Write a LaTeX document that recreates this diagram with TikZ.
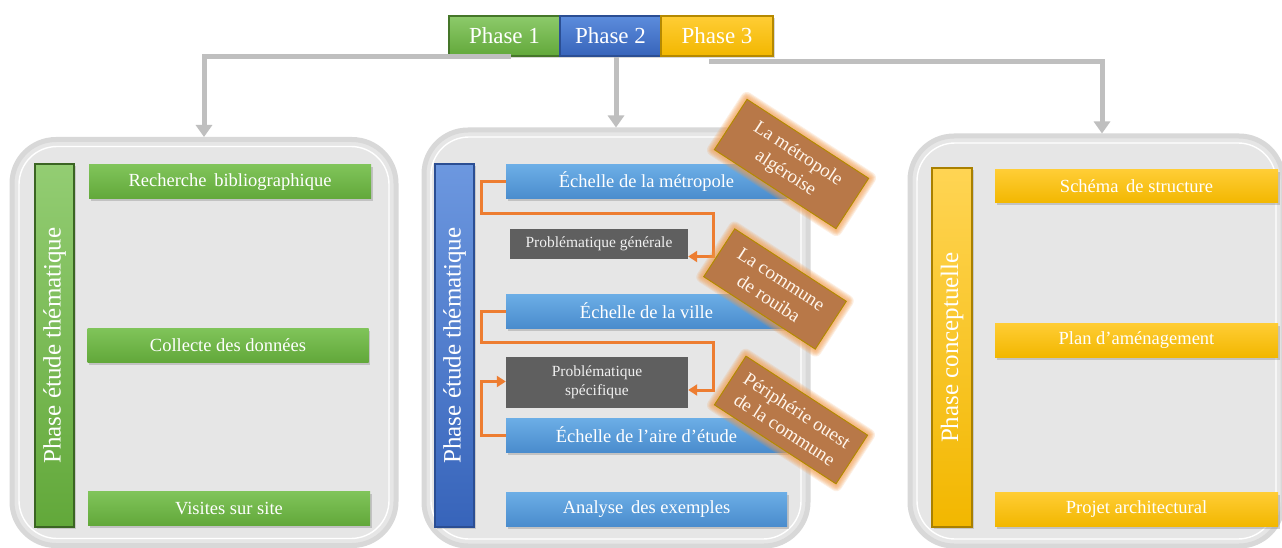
\documentclass[tikz,border=0pt]{standalone}
\usepackage{fontspec}
\setmainfont{Liberation Serif}
\usetikzlibrary{arrows.meta,shadows,calc}

\definecolor{panelfill}{HTML}{E6E6E6}
\definecolor{panelrim}{HTML}{D8D8D8}
\definecolor{grline}{HTML}{BFBFBF}
\definecolor{orline}{HTML}{ED7D31}
\definecolor{grtop}{HTML}{80C45A}
\definecolor{grbot}{HTML}{62A83A}
\definecolor{bltop}{HTML}{6CAEE6}
\definecolor{blbot}{HTML}{4A8CCD}
\definecolor{yetop}{HTML}{FFCD35}
\definecolor{yebot}{HTML}{F2B700}
\definecolor{phbtop}{HTML}{5C8CDC}
\definecolor{phbbot}{HTML}{3764BA}
\definecolor{phbrim}{HTML}{2B4E93}
\definecolor{darkbox}{HTML}{5F5F5F}
\definecolor{tagfill}{HTML}{B87848}
\definecolor{tagrim}{HTML}{B38A00}
\definecolor{tagglow}{HTML}{F39A4A}

\tikzset{
  panelbox/.style={draw=panelrim, line width=5pt, fill=panelfill, rounded corners=44pt,
    inner sep=0pt, drop shadow={opacity=0.12, shadow xshift=1pt, shadow yshift=-2pt}},
  panelline/.style={draw=white, line width=1.4pt, rounded corners=38pt, inner sep=0pt},
  item/.style={minimum height=34pt, inner sep=0pt, text=white,
    font=\fontsize{18.5}{21}\selectfont,
    drop shadow={opacity=0.35, shadow xshift=1.5pt, shadow yshift=-2.5pt}},
  gitem/.style={item, top color=grtop, bottom color=grbot},
  bitem/.style={item, top color=bltop, bottom color=blbot},
  yitem/.style={item, top color=yetop, bottom color=yebot},
  pitem/.style={fill=darkbox, inner sep=0pt, text=white!94!black, align=center,
    font=\fontsize{15.5}{19}\selectfont},
  bar/.style={rotate=90, minimum width=363pt, minimum height=39pt, inner sep=0pt,
    line width=1.5pt, text=white, font=\fontsize{25}{28}\selectfont,
    drop shadow={opacity=0.3, shadow xshift=1.5pt, shadow yshift=-2pt}},
  phasebox/.style={minimum height=40pt, inner sep=0pt, line width=1.2pt,
    text=white, font=\fontsize{23}{25}\selectfont,
    drop shadow={opacity=0.3, shadow xshift=1.5pt, shadow yshift=-2pt}},
  gline/.style={draw=grline, line width=5pt, -{Triangle[width=16pt,length=12pt]}},
  oline/.style={draw=orline, line width=3pt, -{Triangle[width=11pt,length=9pt]}},
  tag/.style={rotate=-33, minimum width=145pt, minimum height=60pt, inner sep=0pt,
    fill=tagfill, draw=tagrim, line width=1pt, text=white!92!orange, align=center,
    font=\fontsize{19}{23}\selectfont},
  glow/.style={rotate=-33, fill=tagglow, draw=none, inner sep=0pt, opacity=0.16}
}

\begin{document}
\begin{tikzpicture}[x=1pt,y=-1pt]
\useasboundingbox (0,0) rectangle (1282,548);
\fill[white] (0,0) rectangle (1282,548);

% ---- three rounded panels
\node[panelbox, minimum width=384pt, minimum height=406pt] (panel1) at (204,342.5) {};
\node[panelline, minimum width=370pt, minimum height=392pt] (panel1in) at (204,342.5) {};
\node[panelbox, minimum width=384pt, minimum height=416pt] (panel2) at (616,338) {};
\node[panelline, minimum width=370pt, minimum height=402pt] (panel2in) at (616,338) {};
\node[panelbox, minimum width=373pt, minimum height=410pt] (panel3) at (1096.5,341) {};
\node[panelline, minimum width=359pt, minimum height=396pt] (panel3in) at (1096.5,341) {};

% ---- phase headers
\node[phasebox, minimum width=111pt, top color=grtop!90!white, bottom color=grbot, draw=grbot!70!black]
  (p1) at (504.5,36) {Phase 1};
\node[phasebox, minimum width=101pt, top color=phbtop, bottom color=phbbot, draw=phbrim]
  (p2) at (610.5,36) {Phase 2};
\node[phasebox, minimum width=112pt, top color=yetop, bottom color=yebot, draw=yebot!75!black]
  (p3) at (717,36) {Phase 3};

% ---- connectors from the headers to the panels
\coordinate (s1) at (511,57);
\coordinate (s3) at (709,62);
\coordinate (t3) at (1102,62);
\draw[gline] (s1) -| (panel1.north);
\draw[gline] (p2.south -| panel2.north) -- (panel2.north);
\draw[gline] (s3) -| (t3 |- panel3.north);

% ---- panel 1 : thematic study
\node[bar, top color=grtop!85!white, bottom color=grbot, draw=grbot!60!black]
  (bar1) at (54.5,345.5) {Phase étude thématique};
\node[gitem, minimum width=282pt] (g1) at (230,182) {Recherche\, bibliographique};
\node[gitem, minimum width=281pt] (g2) at (228,345) {Collecte des données};
\node[gitem, minimum width=282pt] (g3) at (229,508.5) {Visites sur site};

% ---- panel 2 : thematic study, by scale
\node[bar, top color=phbtop!90!white, bottom color=phbbot, draw=phbrim]
  (bar2) at (454.5,345.5) {Phase étude thématique};
\node[bitem, minimum width=281pt] (b1) at (646.5,182) {Échelle de la métropole};
\node[pitem, minimum width=178pt, minimum height=30pt] (pg) at (599,243.5) {Problématique générale};
\node[bitem, minimum width=281pt] (b2) at (646.5,311) {Échelle de la ville};
\node[pitem, minimum width=182pt, minimum height=51pt] (ps) at (597,382.5) {Problématique\\spécifique};
\node[bitem, minimum width=281pt] (b3) at (646.5,435) {Échelle de l’aire d’étude};
\node[bitem, minimum width=281pt] (b4) at (646.5,509) {Analyse\, des exemples};

\draw[oline] (b1.west) -- ++(-24,0) |- (713,214) |- ([yshift=-13pt]pg.east);
\draw[oline] (b2.west) -- ++(-24,0) |- (713,342) |- ([yshift=-7.5pt]ps.east);
\draw[oline] (b3.west) -- ++(-24,0) |- ([yshift=1pt]ps.west);

% ---- rotated scale tags with a soft glow
\foreach \n/\cx/\cy/\w/\h in {tA/791.5/164/145/60, tB/775/289/133/57, tC/791/420/145/58}{
  \foreach \i in {1,...,6}{
    \node[glow, minimum width=\w pt+2*\i pt+2pt, minimum height=\h pt+2*\i pt+2pt,
      rounded corners=\i pt] (\n-g\i) at (\cx,\cy) {};
  }
}
\node[tag, minimum width=145pt, minimum height=60pt] (tA) at (791.5,164) {La métropole\\algéroise};
\node[tag, minimum width=133pt, minimum height=57pt] (tB) at (775,289) {La commune\\de rouiba};
\node[tag, minimum width=145pt, minimum height=58pt] (tC) at (791,420) {Périphérie ouest\\de la commune};

% ---- panel 3 : design phase
\node[bar, minimum width=359pt, minimum height=40pt, top color=yetop!85!white, bottom color=yebot, draw=yebot!70!black]
  (bar3) at (952,347.5) {Phase conceptuelle};
\node[yitem, minimum width=283pt, minimum height=33pt] (y1) at (1136.5,186.5) {Schéma\, de structure};
\node[yitem, minimum width=283pt] (y2) at (1136.5,340) {Plan d’aménagement};
\node[yitem, minimum width=283pt] (y3) at (1136.5,509) {Projet architectural};
\end{tikzpicture}
\end{document}
